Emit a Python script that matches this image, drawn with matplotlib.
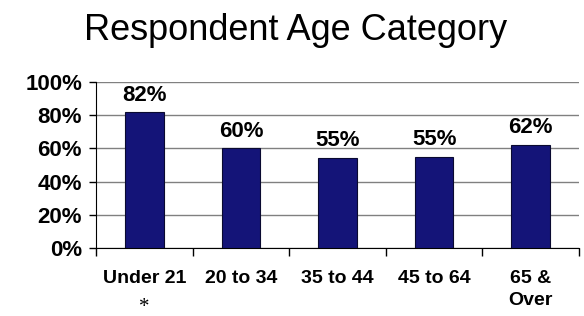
import matplotlib
matplotlib.use("Agg")
import matplotlib.pyplot as plt
import numpy as np

categories = ["Under 21", "20 to 34", "35 to 44", "45 to 64", "65 &\nOver"]
values = [0.817, 0.60, 0.542, 0.55, 0.62]
labels = ["82%", "60%", "55%", "55%", "62%"]
yticks = [0, 0.2, 0.4, 0.6, 0.8, 1.0]
ytick_labels = ["0%", "20%", "40%", "60%", "80%", "100%"]

plt.rcParams['font.family'] = ['Liberation Sans', 'DejaVu Sans']
fig = plt.figure(figsize=(5.84, 3.16), dpi=100)
ax = fig.add_axes([96/584, 1-248/316, (579-96)/584, 166/316])

x = np.arange(len(categories))
ax.bar(x, values, width=0.4, color="#141478", edgecolor="#0a0a30", linewidth=0.8, zorder=3)
for xi, v, l in zip(x, values, labels):
    ax.text(xi, v + 0.04, l, ha="center", va="bottom", fontsize=16, fontweight="bold")

ax.set_xlim(-0.5, len(categories) - 0.5)
ax.set_ylim(0, 1.0)
ax.set_yticks(yticks)
ax.set_yticklabels(ytick_labels, fontsize=16, fontweight="bold")
ax.yaxis.grid(True, color="#808080", linewidth=1.0, zorder=0)
ax.tick_params(axis="y", length=5, width=1, pad=5)

ax.set_xticks(np.arange(-0.5, len(categories), 1.0))
ax.set_xticklabels([])
ax.set_xticks(x, minor=True)
ax.set_xticklabels(categories, minor=True, fontsize=14, fontweight="bold", va="top", linespacing=1.35)
ax.tick_params(axis="x", which="major", length=6, width=1, direction="out")
ax.tick_params(axis="x", which="minor", length=0, pad=16)

for s in ["top", "right"]:
    ax.spines[s].set_visible(False)
ax.spines["left"].set_color("#000000")
ax.spines["bottom"].set_color("#000000")

fig.text(296/584, 1-30/316, "Respondent Age Category", ha="center", va="center", fontsize=26)
fig.text(144/584, 1-307/316, "*", ha="center", va="center", fontsize=15, family="Liberation Serif")

fig.savefig("out.png", dpi=100)
